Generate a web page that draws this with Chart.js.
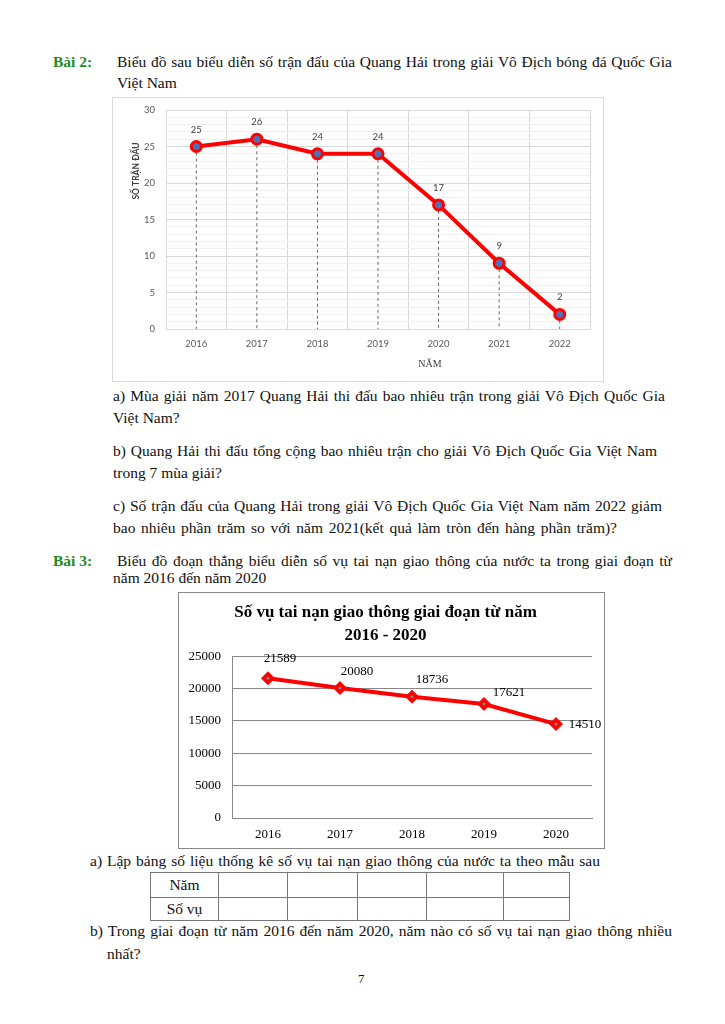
<!DOCTYPE html>
<html><head><meta charset="utf-8">
<script src="https://cdn.jsdelivr.net/npm/chart.js@4.4.0/dist/chart.umd.min.js"></script>
<style>
html,body{margin:0;padding:0;background:#fff;}
#page{position:relative;width:725px;height:1024px;overflow:hidden;font-family:"Liberation Serif",serif;font-size:15.5px;color:#111;}
.ln{position:absolute;white-space:nowrap;line-height:18px;height:18px;text-align:justify;text-align-last:justify;}
.l{position:absolute;white-space:nowrap;line-height:18px;}
.green{color:#1e8c1e;font-weight:bold;}
#f1{position:absolute;left:112px;top:97px;width:490px;height:283px;border:1px solid #d9d9d9;}
#f2{position:absolute;left:178px;top:592px;width:425px;height:255px;border:1px solid #888;}
canvas{display:block;}
#tb{position:absolute;left:150px;top:872px;border-collapse:collapse;font-size:15.5px;}
#tb td{border:1px solid #777;padding:0;text-align:center;}
</style>
</head><body>
<div id="page">
  <div class="l green" style="left:53px;top:53px;">Bài 2:</div>
  <div class="ln" style="left:117px;top:53px;width:555px;">Biểu đồ sau biểu diễn số trận đấu của Quang Hải trong giải Vô Địch bóng đá Quốc Gia</div>
  <div class="l" style="left:117px;top:74px;">Việt Nam</div>

  <div id="f1"><canvas id="c1" width="490" height="283"></canvas></div>

  <div class="ln" style="left:113px;top:387px;width:552px;">a) Mùa giải năm 2017 Quang Hải thi đấu bao nhiêu trận trong giải Vô Địch Quốc Gia</div>
  <div class="l" style="left:113px;top:409px;">Việt Nam?</div>
  <div class="ln" style="left:113px;top:442px;width:544px;">b) Quang Hải thi đấu tổng cộng bao nhiêu trận cho giải Vô Địch Quốc Gia Việt Nam</div>
  <div class="l" style="left:113px;top:464px;">trong 7 mùa giải?</div>
  <div class="ln" style="left:113px;top:497px;width:549px;">c) Số trận đấu của Quang Hải trong giải Vô Địch Quốc Gia Việt Nam năm 2022 giảm</div>
  <div class="ln" style="left:113px;top:519px;width:504px;">bao nhiêu phần trăm so với năm 2021(kết quả làm tròn đến hàng phần trăm)?</div>

  <div class="l green" style="left:53px;top:552px;">Bài 3:</div>
  <div class="ln" style="left:117px;top:552px;width:555px;">Biểu đồ đoạn thẳng biểu diễn số vụ tai nạn giao thông của nước ta trong giai đoạn từ</div>
  <div class="l" style="left:113px;top:569px;">năm 2016 đến năm 2020</div>

  <div id="f2"><canvas id="c2" width="425" height="255"></canvas></div>

  <div class="ln" style="left:90px;top:852px;width:510px;">a) Lập bảng số liệu thống kê số vụ tai nạn giao thông của nước ta theo mẫu sau</div>
  <table id="tb">
    <tr style="height:25px;"><td style="width:67px;">Năm</td><td style="width:68px;"></td><td style="width:69px;"></td><td style="width:68px;"></td><td style="width:76px;"></td><td style="width:65px;"></td></tr>
    <tr style="height:23px;"><td>Số vụ</td><td></td><td></td><td></td><td></td><td></td></tr>
  </table>
  <div class="ln" style="left:90px;top:922px;width:582px;">b) Trong giai đoạn từ năm 2016 đến năm 2020, năm nào có số vụ tai nạn giao thông nhiều</div>
  <div class="l" style="left:107px;top:945px;">nhất?</div>
  <div class="l" style="left:358px;top:970px;font-size:13px;">7</div>
</div>

<script>
// ---- Data ----
const years1 = ['2016', '2017', '2018', '2019', '2020', '2021', '2022'];
const matches = [25, 26, 24, 24, 17, 9, 2];
const matchTicks = [0, 5, 10, 15, 20, 25, 30];

const years2 = ['2016', '2017', '2018', '2019', '2020'];
const accidents = [21589, 20080, 18736, 17621, 14510];
const accidentTicks = [0, 5000, 10000, 15000, 20000, 25000];

// ---- Plugins ----
const pointLabels = {
  id: 'pointLabels',
  afterDatasetsDraw(chart, args, opts) {
    const ctx = chart.ctx;
    const meta = chart.getDatasetMeta(0);
    const data = chart.data.datasets[0].data;
    ctx.save();
    meta.data.forEach((pt, i) => {
      if (opts.dot) {
        ctx.beginPath();
        ctx.arc(pt.x, pt.y, opts.dot.r, 0, Math.PI * 2);
        ctx.fillStyle = opts.dot.color;
        ctx.fill();
      }
      const off = opts.offsets ? opts.offsets[i] : opts.offset;
      ctx.font = opts.font;
      ctx.fillStyle = opts.color;
      ctx.textAlign = 'center';
      ctx.textBaseline = 'middle';
      ctx.fillText(String(data[i]), pt.x + off[0], pt.y + off[1]);
    });
    ctx.restore();
  }
};

const dropLines = {
  id: 'dropLines',
  beforeDatasetsDraw(chart) {
    const ctx = chart.ctx;
    const meta = chart.getDatasetMeta(0);
    const bottom = chart.chartArea.bottom;
    ctx.save();
    ctx.strokeStyle = '#595959';
    ctx.lineWidth = 0.9;
    ctx.setLineDash([3, 3]);
    meta.data.forEach(pt => {
      ctx.beginPath();
      ctx.moveTo(pt.x, pt.y);
      ctx.lineTo(pt.x, bottom);
      ctx.stroke();
    });
    ctx.restore();
  }
};

const axisTitles1 = {
  id: 'axisTitles1',
  afterDraw(chart) {
    const ctx = chart.ctx;
    const a = chart.chartArea;
    ctx.save();
    ctx.fillStyle = '#404040';
    ctx.textAlign = 'center';
    ctx.textBaseline = 'middle';
    ctx.font = 'bold 8.5px Lato';
    ctx.translate(a.left - 30, a.top + 61);
    ctx.rotate(-Math.PI / 2);
    ctx.fillText('SỐ TRẬN ĐẤU', 0, 0);
    ctx.restore();
    ctx.save();
    ctx.fillStyle = '#404040';
    ctx.textAlign = 'center';
    ctx.textBaseline = 'middle';
    ctx.font = '10px "Liberation Serif"';
    ctx.fillText('NĂM', a.left + 264, a.bottom + 35);
    ctx.restore();
  }
};

// ---- Chart 1 ----
new Chart(document.getElementById('c1'), {
  type: 'line',
  data: {
    labels: years1,
    datasets: [{
      data: matches,
      borderColor: '#ff0000',
      borderWidth: 4,
      tension: 0,
      pointRadius: 5,
      pointBorderWidth: 3,
      pointBorderColor: '#ff0000',
      pointBackgroundColor: '#4f71b5',
      pointHoverRadius: 5
    }]
  },
  options: {
    responsive: false,
    animation: false,
    events: [],
    layout: { autoPadding: false, padding: { top: 12, right: 13, left: 0, bottom: 0 } },
    plugins: {
      legend: { display: false },
      tooltip: { enabled: false },
      pointLabels: { font: '9.5px Lato', color: '#404040', offset: [0, -17] }
    },
    scales: {
      x: {
        offset: true,
        grid: { offset: true, color: '#d9d9d9', drawTicks: false },
        border: { color: '#d9d9d9' },
        ticks: { font: { family: 'Lato', size: 9.5 }, color: '#595959', padding: 9 },
        afterFit(s) { s.height = 52; }
      },
      y: {
        min: 0, max: 30,
        grid: {
          drawTicks: false,
          color: c => (c.tick && matchTicks.includes(c.tick.value)) ? '#d9d9d9' : '#f0f0f0'
        },
        border: { display: false },
        ticks: {
          stepSize: 1, autoSkip: false,
          font: { family: 'Lato', size: 9.5 }, color: '#595959', padding: 11,
          callback: v => matchTicks.includes(v) ? String(v) : ''
        },
        afterFit(s) { s.width = 53; s.paddingTop = 4; s.paddingBottom = 4; }
      }
    }
  },
  plugins: [dropLines, pointLabels, axisTitles1]
});

// ---- Chart 2 ----
new Chart(document.getElementById('c2'), {
  type: 'line',
  data: {
    labels: years2,
    datasets: [{
      data: accidents,
      borderColor: '#ff0000',
      borderWidth: 4,
      tension: 0,
      pointStyle: 'rectRot',
      pointRadius: 6.5,
      pointBorderWidth: 1,
      pointBorderColor: '#ff0000',
      pointBackgroundColor: '#ff0000',
      pointHoverRadius: 6.5
    }]
  },
  options: {
    responsive: false,
    animation: false,
    events: [],
    layout: { padding: { top: 0, right: 12, left: 0, bottom: 0 } },
    plugins: {
      legend: { display: false },
      tooltip: { enabled: false },
      title: {
        display: true,
        text: ['Số vụ tai nạn giao thông giai đoạn từ năm', '2016 - 2020'],
        font: { family: 'Liberation Serif', size: 17, weight: 'bold', lineHeight: 1.3 },
        color: '#000',
        padding: { top: 9, bottom: 10 }
      },
      pointLabels: {
        font: '13px "Liberation Serif"', color: '#000',
        offsets: [[12, -20], [17, -16], [20, -17], [25, -11], [29, 0]],
        dot: { r: 1.6, color: '#7f7f7f' }
      }
    },
    scales: {
      x: {
        offset: true,
        grid: { display: false, drawTicks: false },
        border: { color: '#888' },
        ticks: { font: { family: 'Liberation Serif', size: 13 }, color: '#000', padding: 9 },
        afterFit(s) { s.height = 30; }
      },
      y: {
        min: 0, max: 25000,
        grid: { color: '#888', drawTicks: false },
        border: { display: true, color: '#888' },
        ticks: {
          stepSize: 5000,
          font: { family: 'Liberation Serif', size: 13 }, color: '#000', padding: 11,
          callback: v => accidentTicks.includes(v) ? String(v) : ''
        },
        afterFit(s) { s.width = 53; }
      }
    }
  },
  plugins: [pointLabels]
});
</script>
</body></html>
